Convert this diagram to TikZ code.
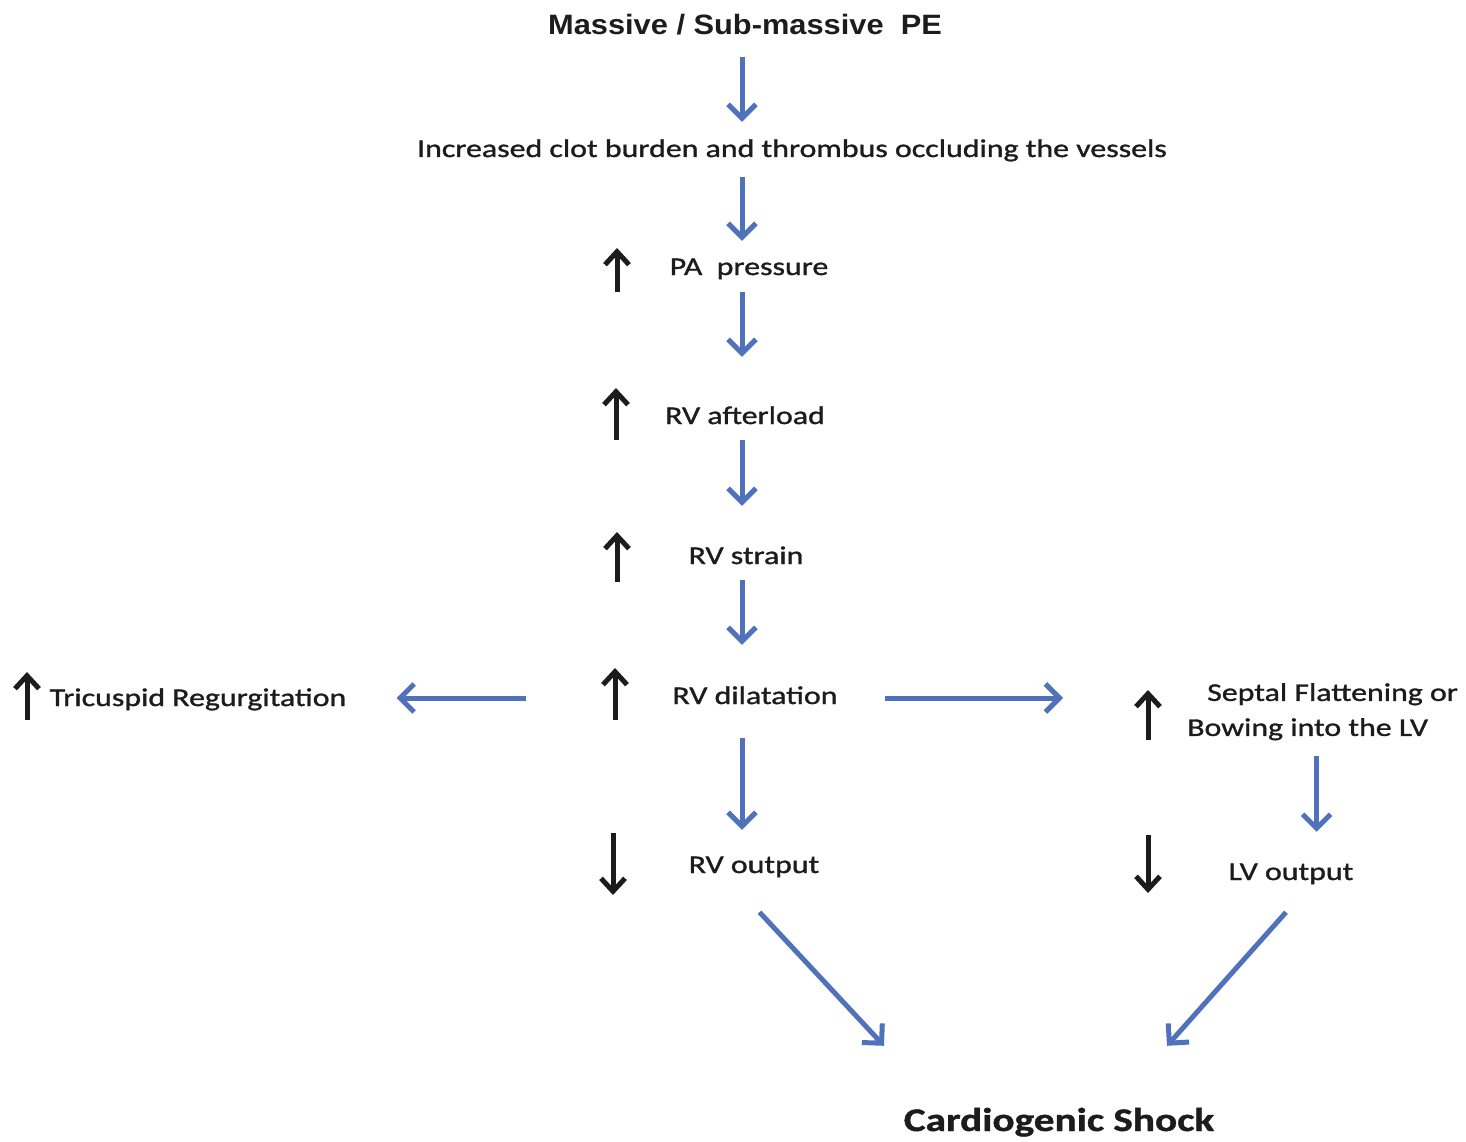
\documentclass[tikz,border=0pt]{standalone}
\usepackage{fontspec}
\setmainfont{Carlito}[FakeStretch=1.25, FakeBold=1.2]
\newfontfamily\headfont{Liberation Sans}[FakeStretch=1.1]
\usetikzlibrary{arrows.meta,calc}

\definecolor{flowblue}{RGB}{79,114,186}
\definecolor{inkgray}{RGB}{28,28,28}

\begin{document}
\begin{tikzpicture}[
  x=1pt, y=-1pt,
  every node/.style={text=inkgray, inner sep=0pt},
  lbl/.style={
    anchor=base,
    font=\fontsize{25.5}{35}\selectfont,
    text height=17pt,
    text depth=5pt
  },
  headlbl/.style={
    anchor=base,
    font=\headfont\bfseries\fontsize{28}{34}\selectfont,
    text height=20pt,
    text depth=6pt
  },
  shocklbl/.style={
    anchor=base,
    font=\bfseries\fontsize{33}{40}\selectfont,
    text height=22pt,
    text depth=7pt
  },
  flow/.style={-{Straight Barb[length=14pt,width=28pt]}, line width=5pt, draw=flowblue},
  trend/.style={-{Straight Barb[length=13pt,width=24pt]}, line width=5pt, draw=inkgray}
]
\useasboundingbox (0,0) rectangle (1466,1142);
\coordinate (spine) at (742,0);

% labels
\node[headlbl] (pe) at (745,35) {Massive / Sub-massive\ \ PE};
\node[lbl] (clot) at (792,157) {Increased clot burden and thrombus occluding the vessels};
\node[lbl] (pa) at (749,275) {PA\ \ pressure};
\node[lbl] (afterload) at (745,424) {RV afterload};
\node[lbl] (strain) at (746,564) {RV strain};
\node[lbl] (dil) at (755,704) {RV dilatation};
\node[lbl] (tricusp) at (198,706) {Tricuspid Regurgitation};
\node[anchor=north west, align=left, font=\fontsize{25.5}{35}\selectfont] (septal) at (1187,683)
  {\hspace*{20pt}Septal Flattening or\\Bowing into the LV};
\node[lbl] (rvout) at (754,873) {RV output};
\node[lbl] (lvout) at (1291,880) {LV output};
\node[shocklbl] (shock) at (1059,1131) {Cardiogenic Shock};

% main chain
\draw[flow, shorten <=16pt, shorten >=18pt] (pe.south -| spine) -- (clot.north -| spine);
\draw[flow, shorten <=15pt, shorten >=17pt] (clot.south -| spine) -- (pa.north -| spine);
\draw[flow, shorten <=12pt, shorten >=50pt] (pa.south -| spine) -- (afterload.north -| spine);
\draw[flow, shorten <=11pt, shorten >=41pt] (afterload.south -| spine) -- (strain.north -| spine);
\draw[flow, shorten <=11pt, shorten >=42pt] (strain.south -| spine) -- (dil.north -| spine);
\draw[flow, shorten <=29pt, shorten >=26pt] (dil.south -| spine) -- (rvout.north -| spine);

% side branches
\draw[flow, shorten <=146pt, shorten >=50pt] (dil.west) -- (dil.west -| tricusp.east);
\draw[flow, shorten <=47pt, shorten >=124pt] (dil.east) -- (dil.east -| septal.west);
\draw[flow, shorten <=16pt, shorten >=31pt] ([xshift=-6pt]septal.south) -- ([xshift=-6pt]septal.south |- lvout.north);

% into shock
\draw[flow] ($(rvout.south)+(5.5,34)$) -- ($(shock.north)+(-175,-63)$);
\draw[flow] ($(lvout.south)+(-5,27)$) -- ($(shock.north)+(108,-63)$);

% up / down marks
\foreach \x/\ytail/\ytip in {617/292/248, 616/440/388, 617/582/532, 615/720/668, 27/720/672, 1148/740/690, 613/833/895, 1148/835/893}
  \draw[trend] (\x,\ytail) -- (\x,\ytip);
\end{tikzpicture}
\end{document}
